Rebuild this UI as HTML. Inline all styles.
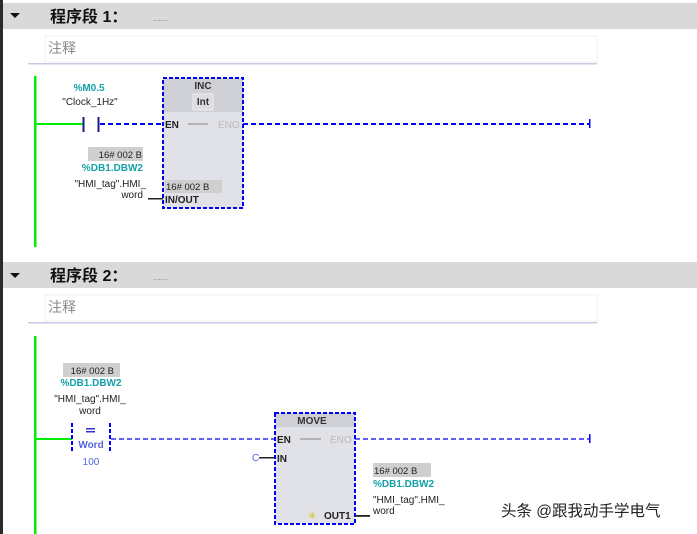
<!DOCTYPE html>
<html><head><meta charset="utf-8">
<style>
html,body{margin:0;padding:0;background:#fff;}
svg{display:block;}
text{font-family:"Liberation Sans","Noto Sans CJK SC",sans-serif;}
</style></head><body>
<svg width="697" height="534" viewBox="0 0 697 534" xmlns="http://www.w3.org/2000/svg">
<rect x="0" y="0" width="697" height="534" fill="#fff"/>
<rect x="0" y="0" width="3" height="534" fill="#2b2b2b"/>

<rect x="3" y="3" width="694" height="26" fill="#d9d9d9"/>
<polygon points="10,13 20,13 15,18" fill="#111"/>
<text x="50" y="22" font-size="16" font-weight="bold" fill="#111">程序段 1：</text>
<text x="153" y="21" font-size="9" fill="#888">......</text>
<rect x="45" y="36" width="552" height="26" fill="#fff" stroke="#f0f0f0"/>
<text x="48" y="53" font-size="14" fill="#888">注释</text>
<rect x="28" y="63" width="569" height="1.5" fill="#c9cbe6"/>

<rect x="34" y="76" width="2.5" height="171" fill="#00ee00"/>
<rect x="35" y="123" width="49" height="2" fill="#00ee00"/>
<rect x="82.5" y="117" width="2" height="15" fill="#1a1a8a"/>
<rect x="97.5" y="117" width="2" height="15" fill="#1a1a8a"/>
<line x1="100" y1="124" x2="163" y2="124" stroke="#0000ff" stroke-width="2" stroke-dasharray="5,3"/>
<text x="89" y="91" font-size="10" font-weight="bold" fill="#16a0a8" text-anchor="middle">%M0.5</text>
<text x="90" y="105" font-size="10" fill="#222" text-anchor="middle">"Clock_1Hz"</text>

<rect x="163" y="78" width="80" height="130" fill="#e1e1e8"/>
<rect x="163" y="78" width="80" height="34" fill="#cfcfd6"/>
<rect x="193" y="94" width="20" height="16" fill="#dcdce2" stroke="#eee"/>
<text x="203" y="89" font-size="10" font-weight="bold" fill="#333" text-anchor="middle">INC</text>
<text x="203" y="105" font-size="10" font-weight="bold" fill="#333" text-anchor="middle">Int</text>
<text x="165" y="128" font-size="10" font-weight="bold" fill="#222">EN</text>
<line x1="188" y1="124" x2="208" y2="124" stroke="#888" stroke-width="1"/>
<text x="218" y="128" font-size="10" fill="#bbb">ENO</text>
<rect x="165" y="180" width="57" height="13" fill="#cfcfcf"/>
<text x="166" y="190" font-size="9.5" fill="#222">16# 002 B</text>
<text x="165" y="203" font-size="10" font-weight="bold" fill="#222">IN/OUT</text>
<rect x="163" y="78" width="80" height="130" fill="none" stroke="#0000ff" stroke-width="2" stroke-dasharray="4,2"/>
<line x1="243" y1="124" x2="589" y2="124" stroke="#0000ff" stroke-width="2" stroke-dasharray="5,3"/>
<rect x="589" y="119" width="1.5" height="9" fill="#0000ff"/>

<rect x="88" y="147" width="55" height="14" fill="#cfcfcf"/>
<text x="142" y="158" font-size="9.5" fill="#222" text-anchor="end">16# 002 B</text>
<text x="143" y="171" font-size="10" font-weight="bold" fill="#16a0a8" text-anchor="end">%DB1.DBW2</text>
<text x="146" y="187" font-size="10" fill="#222" text-anchor="end">"HMI_tag".HMI_</text>
<text x="143" y="198" font-size="10" fill="#222" text-anchor="end">word</text>
<rect x="148" y="198" width="15" height="1.5" fill="#222"/>

<rect x="3" y="262" width="694" height="26" fill="#d9d9d9"/>
<polygon points="10,273 20,273 15,278" fill="#111"/>
<text x="50" y="281" font-size="16" font-weight="bold" fill="#111">程序段 2：</text>
<text x="153" y="280" font-size="9" fill="#888">......</text>
<rect x="45" y="295" width="552" height="26" fill="#fff" stroke="#f0f0f0"/>
<text x="48" y="312" font-size="14" fill="#888">注释</text>
<rect x="28" y="322" width="569" height="1.5" fill="#c9cbe6"/>

<rect x="34" y="336" width="2.5" height="198" fill="#00ee00"/>
<rect x="35" y="438" width="37" height="2" fill="#00ee00"/>
<rect x="63" y="363" width="57" height="14" fill="#cfcfcf"/>
<text x="114" y="374" font-size="9.5" fill="#222" text-anchor="end">16# 002 B</text>
<text x="91" y="386" font-size="10" font-weight="bold" fill="#16a0a8" text-anchor="middle">%DB1.DBW2</text>
<text x="90" y="402" font-size="10" fill="#222" text-anchor="middle">"HMI_tag".HMI_</text>
<text x="90" y="414" font-size="10" fill="#222" text-anchor="middle">word</text>
<line x1="72" y1="423" x2="72" y2="453" stroke="#0000ff" stroke-width="2" stroke-dasharray="4,2"/>
<line x1="110" y1="423" x2="110" y2="453" stroke="#0000ff" stroke-width="2" stroke-dasharray="4,2"/>
<rect x="86" y="428" width="9" height="1.5" fill="#3333cc"/>
<rect x="86" y="431" width="9" height="1.5" fill="#3333cc"/>
<text x="91" y="448" font-size="10" font-weight="bold" fill="#5566dd" text-anchor="middle">Word</text>
<text x="91" y="465" font-size="10" fill="#5566dd" text-anchor="middle">100</text>
<line x1="111" y1="439" x2="275" y2="439" stroke="#0000ff" stroke-width="1.3" stroke-dasharray="5,3"/>

<rect x="275" y="413" width="80" height="111" fill="#e1e1e8"/>
<rect x="275" y="413" width="80" height="14" fill="#cfcfd6"/>
<text x="312" y="424" font-size="10" font-weight="bold" fill="#333" text-anchor="middle">MOVE</text>
<text x="277" y="443" font-size="10" font-weight="bold" fill="#222">EN</text>
<line x1="300" y1="439" x2="321" y2="439" stroke="#888" stroke-width="1"/>
<text x="330" y="443" font-size="10" fill="#bbb">ENO</text>
<text x="277" y="462" font-size="10" font-weight="bold" fill="#222">IN</text>
<text x="252" y="461" font-size="10" fill="#5566dd">C</text>
<rect x="259" y="457" width="16" height="1.5" fill="#222"/>
<text x="308" y="519" font-size="10" fill="#cccc00">✳</text>
<text x="324" y="519" font-size="10" font-weight="bold" fill="#222">OUT1</text>
<rect x="275" y="413" width="80" height="111" fill="none" stroke="#0000ff" stroke-width="2" stroke-dasharray="4,2"/>
<line x1="355" y1="439" x2="589" y2="439" stroke="#0000ff" stroke-width="1.3" stroke-dasharray="5,3"/>
<rect x="589" y="434" width="1.5" height="9" fill="#0000ff"/>
<rect x="355" y="515" width="15" height="1.8" fill="#222"/>

<rect x="373" y="463" width="58" height="14" fill="#cfcfcf"/>
<text x="374" y="474" font-size="9.5" fill="#222">16# 002 B</text>
<text x="373" y="487" font-size="10" font-weight="bold" fill="#16a0a8">%DB1.DBW2</text>
<text x="373" y="503" font-size="10" fill="#222">"HMI_tag".HMI_</text>
<text x="373" y="514" font-size="10" fill="#222">word</text>

<text x="501" y="516" font-size="15.5" fill="#222">头条 @跟我动手学电气</text>
</svg>
</body></html>
